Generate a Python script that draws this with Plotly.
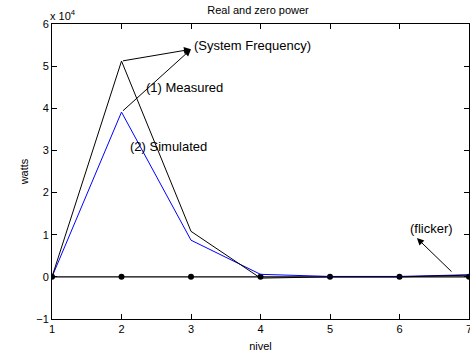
import plotly.graph_objects as go

nivel = [1, 2, 3, 4, 5, 6, 7]
measured = [0.0, 5.12, 1.08, -0.03, 0.0, 0.0, 0.04]   # x 10^4 watts
simulated = [0.0, 3.91, 0.87, 0.06, 0.01, 0.01, 0.05]
zero_line = [0, 0, 0, 0, 0, 0, 0]

FONT = "Liberation Sans, Arial, sans-serif"

fig = go.Figure()
fig.add_trace(go.Scatter(x=nivel, y=zero_line, mode="lines+markers",
                         line=dict(color="black", width=1.2),
                         marker=dict(color="black", size=6)))
fig.add_trace(go.Scatter(x=nivel, y=simulated, mode="lines",
                         line=dict(color="blue", width=1)))
fig.add_trace(go.Scatter(x=nivel, y=measured, mode="lines",
                         line=dict(color="black", width=1)))

ann = []
# arrows to (System Frequency)
for y0 in (measured[1], simulated[1]):
    ann.append(dict(x=3.0, y=5.4, ax=2, ay=y0, xref="x", yref="y", axref="x", ayref="y",
                    text="", showarrow=True, arrowhead=2, arrowsize=1.4, arrowwidth=1,
                    arrowcolor="black"))
ann.append(dict(x=6.25, y=0.92, ax=6.77, ay=0.09, xref="x", yref="y", axref="x", ayref="y",
                text="", showarrow=True, arrowhead=2, arrowsize=1.4, arrowwidth=1,
                arrowcolor="black"))
texts = [("(System Frequency)", 3.02, 5.49), ("(1) Measured", 2.32, 4.49),
         ("(2) Simulated", 2.10, 3.09), ("(flicker)", 6.12, 1.14)]
for t, x, y in texts:
    ann.append(dict(x=x, y=y, xref="x", yref="y", text=t, showarrow=False,
                    xanchor="left", yanchor="middle", font=dict(size=13, color="black", family=FONT)))
ann.append(dict(x=-0.01, y=1.0, xref="paper", yref="paper", text="x 10<sup>4</sup>", showarrow=False,
                xanchor="left", yanchor="bottom", font=dict(size=11, color="black", family=FONT)))

axis_common = dict(showline=True, linecolor="black", linewidth=1, mirror="ticks",
                   ticks="inside", ticklen=5, tickcolor="black", showgrid=False,
                   zeroline=False, automargin=False, ticklabeloverflow="allow",
                   tickfont=dict(size=11, color="black", family=FONT))

fig.update_layout(
    width=470, height=358,
    margin=dict(l=52, r=1, t=24, b=39),
    paper_bgcolor="white", plot_bgcolor="white",
    showlegend=False,
    title=dict(text="Real and zero power", x=0.549, xanchor="center", y=0.972, yanchor="middle",
               font=dict(size=11, color="black", family=FONT)),
    xaxis=dict(range=[1, 7], tickvals=nivel, title=dict(text="nivel", standoff=8,
               font=dict(size=11, color="black", family=FONT)), **axis_common),
    yaxis=dict(range=[-1, 6], tickvals=[-1, 0, 1, 2, 3, 4, 5, 6], title=dict(text="watts", standoff=5,
               font=dict(size=11, color="black", family=FONT)), **axis_common),
    annotations=ann,
)

fig.write_html("out.html", config={"displayModeBar": False},
               post_script="document.body.style.margin='0';")
